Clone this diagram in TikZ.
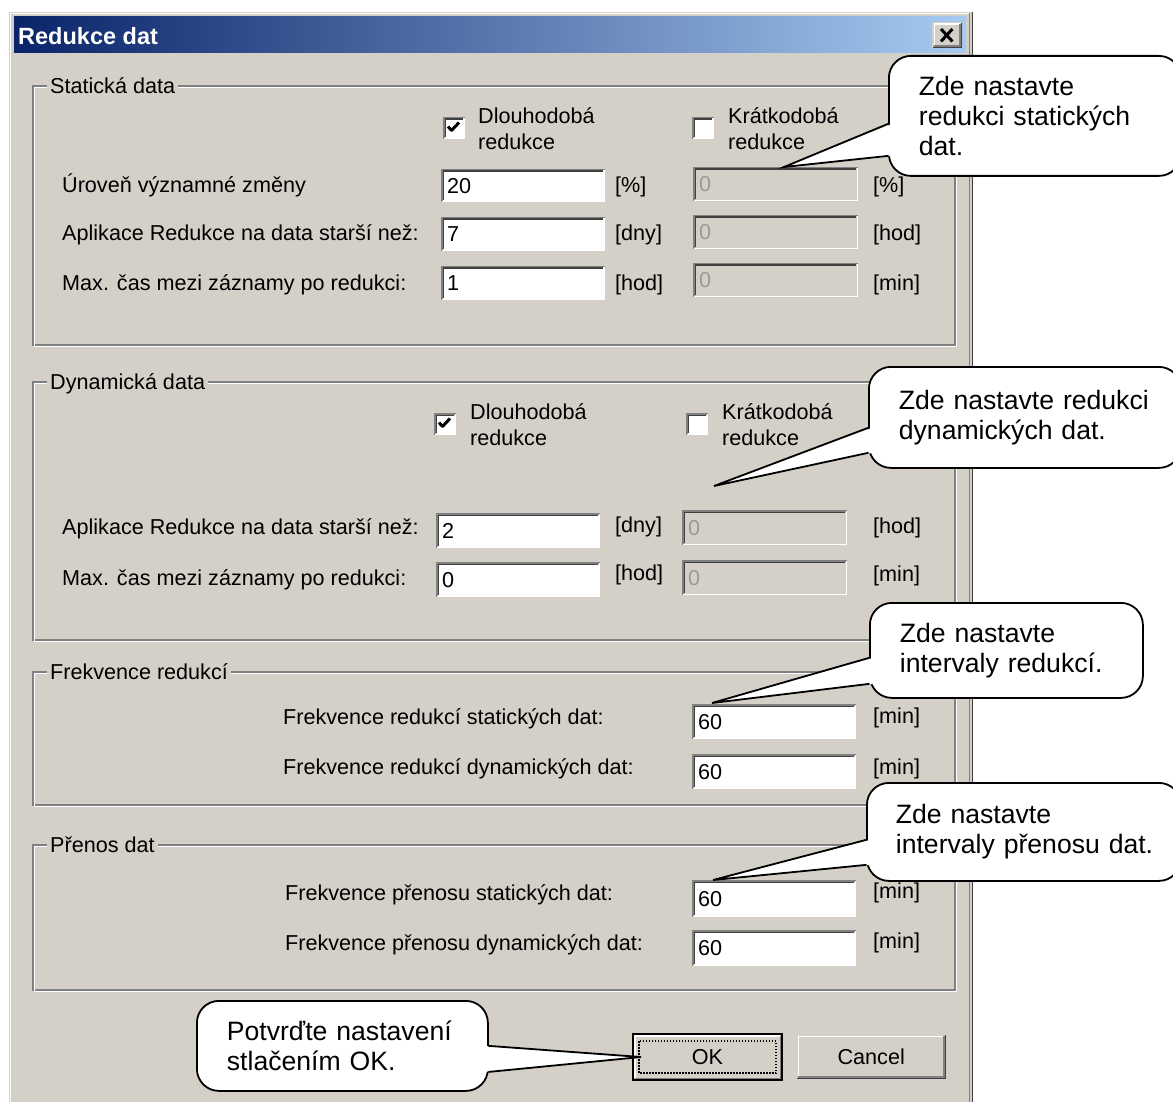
\documentclass[tikz,border=0pt]{standalone}
\usepackage{fontspec}
\setmainfont{Liberation Sans}
\usetikzlibrary{calc}
\definecolor{dlgbg}{HTML}{D4D0C8}
\definecolor{shadowc}{HTML}{808080}
\definecolor{darkc}{HTML}{404040}
\definecolor{titleL}{HTML}{0A246A}
\definecolor{titleR}{HTML}{A6CAF0}
\definecolor{distext}{HTML}{9A9A9A}
\newcommand\uifont{\fontsize{21.6}{26}\selectfont}
\newcommand\cofont{\fontsize{26.6}{30}\selectfont}
\newcommand\cln[1]{\mbox{#1}}
\newcommand\sunken[1]{%
  \draw[shadowc,line width=1.5pt] ([shift={(0.75pt,0.75pt)}]#1.south west) -- ([shift={(0.75pt,-0.75pt)}]#1.north west) -- ([shift={(-0.75pt,-0.75pt)}]#1.north east);
  \draw[darkc,line width=1.5pt] ([shift={(2.25pt,2.25pt)}]#1.south west) -- ([shift={(2.25pt,-2.25pt)}]#1.north west) -- ([shift={(-2.25pt,-2.25pt)}]#1.north east);
  \draw[white,line width=1.5pt] ([shift={(0.75pt,0.75pt)}]#1.south west) -- ([shift={(-0.75pt,0.75pt)}]#1.south east) -- ([shift={(-0.75pt,-0.75pt)}]#1.north east);
}
\newcommand\raisedbox[1]{%
  \draw[white,line width=1.5pt] ([shift={(2.25pt,2.25pt)}]#1.south west) -- ([shift={(2.25pt,-2.25pt)}]#1.north west) -- ([shift={(-2.25pt,-2.25pt)}]#1.north east);
  \draw[darkc,line width=1.5pt] ([shift={(0.75pt,0.75pt)}]#1.south west) -- ([shift={(-0.75pt,0.75pt)}]#1.south east) -- ([shift={(-0.75pt,-0.75pt)}]#1.north east);
  \draw[shadowc,line width=1.5pt] ([shift={(2.25pt,2.25pt)}]#1.south west) -- ([shift={(-2.25pt,2.25pt)}]#1.south east) -- ([shift={(-2.25pt,-2.25pt)}]#1.north east);
}
\newcommand\mkfield[8]{% name, x, y, w, h, fill, text colour, text
  \node[uibox, fill=#6, minimum width=#4pt, minimum height=#5pt] (#1) at (#2,#3) {};
  \sunken{#1}
  \node[uitext, text=#7] (#1t) at ([xshift=6pt]#1.west) {#8};
}
\newcommand\mkcheck[3]{% name, x, y
  \node[uibox, fill=white, minimum width=22pt, minimum height=22pt] (#1) at (#2,#3) {};
  \sunken{#1}
}
\newcommand\drawtick[1]{%
  \draw[line width=3pt, line join=bevel] ([shift={(5pt,-9.5pt)}]#1.north west) -- ([shift={(8.5pt,-13.5pt)}]#1.north west) -- ([shift={(16pt,-5.5pt)}]#1.north west);
}
\newcommand\groupbox[6]{% name, x1, y1, x2, y2, label
  \draw[shadowc, line width=1.5pt] (#2,#3) rectangle (#4,#5);
  \draw[white, line width=1.5pt] ({#2+1.5},{#3+1.5}) rectangle ({#4+1.5},{#5+1.5});
  \node[grouplabel] (#1) at ({#2+14},#3) {#6};
}
\begin{document}
\begin{tikzpicture}[x=1pt,y=-1pt,
  uibox/.style={rectangle, draw=none, inner sep=0pt, anchor=north west},
  uibase/.style={font=\uifont, inner sep=0pt, text=black},
  uitext/.style={uibase, anchor=mid west, yshift=-5pt},
  twoline/.style={uibase, anchor=west, align=left},
  grouplabel/.style={uitext, fill=dlgbg, inner xsep=3pt, inner ysep=2pt},
  callout/.style={draw=black, line width=1.8pt, fill=white, rounded corners=22pt, font=\cofont, align=left, inner xsep=30pt, inner ysep=0pt, anchor=north west},
  callline/.style={line width=1.8pt, line join=miter, line cap=round},
]
\useasboundingbox (0,0) rectangle (1173,1102);
\clip (0,0) rectangle (1173,1102);
\fill[white] (0,0) rectangle (1173,1102);

% dialog frame
\fill[dlgbg] (9,12) rectangle (973,1110);
\draw[white, line width=1.5pt] (10.5,1110) -- (10.5,13.5) -- (970,13.5);
\draw[shadowc, line width=1.5pt] (969.5,13.5) -- (969.5,1110);
\draw[darkc, line width=1.5pt] (972.25,12) -- (972.25,1110);
\shade[left color=titleL, right color=titleR] (14,17) rectangle (966,53);
\node[uitext, font=\bfseries\fontsize{23.5}{26}\selectfont, text=white] (title) at (18,37) {Redukce dat};
\node[uibox, fill=dlgbg, minimum width=30pt, minimum height=26pt] (close) at (932,22) {};
\raisedbox{close}
\draw[line width=3pt] ([shift={(9pt,-7pt)}]close.north west) -- ([shift={(-10pt,7pt)}]close.south east);
\draw[line width=3pt] ([shift={(-10pt,-7pt)}]close.north east) -- ([shift={(9pt,7pt)}]close.south west);

% Statická data
\groupbox{gstat}{33}{86}{955}{345}{Statická data}
\mkcheck{cb1}{443}{117}
\drawtick{cb1}
\node[twoline] (cb1t) at (478,129) {Dlouhodobá\\redukce};
\mkcheck{cb2}{692}{117}
\node[twoline] (cb2t) at (728,129) {Krátkodobá\\redukce};
\node[uitext] (sl1) at (62,185) {Úroveň významné změny};
\node[uitext] (sl2) at (62,233) {Aplikace Redukce na data starší než:};
\node[uitext] (sl3) at (62,283) {Max. čas mezi záznamy po redukci:};
\mkfield{s1a}{441}{169}{164}{33}{white}{black}{20}
\mkfield{s2a}{441}{217}{164}{34}{white}{black}{7}
\mkfield{s3a}{441}{266}{164}{34}{white}{black}{1}
\node[uitext] (su1) at (615,185) {[\%]};
\node[uitext] (su2) at (615,233) {[dny]};
\node[uitext] (su3) at (615,283) {[hod]};
\mkfield{s1b}{693}{167}{165}{34}{dlgbg}{distext}{0}
\mkfield{s2b}{693}{215}{165}{34}{dlgbg}{distext}{0}
\mkfield{s3b}{693}{263}{165}{34}{dlgbg}{distext}{0}
\node[uitext] (sv1) at (873,185) {[\%]};
\node[uitext] (sv2) at (873,233) {[hod]};
\node[uitext] (sv3) at (873,283) {[min]};

% Dynamická data
\groupbox{gdyn}{33}{382}{955}{640}{Dynamická data}
\mkcheck{cb3}{434}{413}
\drawtick{cb3}
\node[twoline] (cb3t) at (470,425) {Dlouhodobá\\redukce};
\mkcheck{cb4}{686}{413}
\node[twoline] (cb4t) at (722,425) {Krátkodobá\\redukce};
\node[uitext] (dl1) at (62,527) {Aplikace Redukce na data starší než:};
\node[uitext] (dl2) at (62,578) {Max. čas mezi záznamy po redukci:};
\mkfield{d1a}{436}{513}{164}{35}{white}{black}{2}
\mkfield{d2a}{436}{562}{164}{35}{white}{black}{0}
\node[uitext] (du1) at (615,525) {[dny]};
\node[uitext] (du2) at (615,573) {[hod]};
\mkfield{d1b}{682}{510}{165}{35}{dlgbg}{distext}{0}
\mkfield{d2b}{682}{560}{165}{35}{dlgbg}{distext}{0}
\node[uitext] (dv1) at (873,526) {[hod]};
\node[uitext] (dv2) at (873,574) {[min]};

% Frekvence redukcí
\groupbox{gfreq}{33}{672}{955}{805}{Frekvence redukcí}
\node[uitext] (fl1) at (283,717) {Frekvence redukcí statických dat:};
\node[uitext] (fl2) at (283,767) {Frekvence redukcí dynamických dat:};
\mkfield{f1}{692}{704}{164}{35}{white}{black}{60}
\mkfield{f2}{692}{754}{164}{35}{white}{black}{60}
\node[uitext] (fu1) at (873,716) {[min]};
\node[uitext] (fu2) at (873,767) {[min]};

% Přenos dat
\groupbox{gpren}{33}{845}{955}{990}{Přenos dat}
\node[uitext] (pl1) at (285,893) {Frekvence přenosu statických dat:};
\node[uitext] (pl2) at (285,943) {Frekvence přenosu dynamických dat:};
\mkfield{p1}{692}{880}{164}{37}{white}{black}{60}
\mkfield{p2}{692}{930}{164}{36}{white}{black}{60}
\node[uitext] (pu1) at (873,891) {[min]};
\node[uitext] (pu2) at (873,941) {[min]};

% Buttons
\node[uibox, fill=dlgbg, draw=black, line width=2pt, minimum width=149pt, minimum height=46pt] (ok) at (632,1033) {};
\draw[white, line width=1.5pt] ([shift={(2.75pt,2.75pt)}]ok.south west) -- ([shift={(2.75pt,-2.75pt)}]ok.north west) -- ([shift={(-2.75pt,-2.75pt)}]ok.north east);
\draw[shadowc, line width=1.5pt] ([shift={(2.75pt,2.75pt)}]ok.south west) -- ([shift={(-2.75pt,2.75pt)}]ok.south east) -- ([shift={(-2.75pt,-2.75pt)}]ok.north east);
\draw[line width=1.2pt, dash pattern=on 1.5pt off 1.5pt] ([shift={(7pt,-8pt)}]ok.north west) rectangle ([shift={(-7pt,8pt)}]ok.south east);
\node[font=\uifont, inner sep=0pt] (okt) at (ok.center) {OK};
\node[uibox, fill=dlgbg, minimum width=150pt, minimum height=45pt] (cancel) at (796,1034) {};
\raisedbox{cancel}
\node[font=\uifont, inner sep=0pt] (cancelt) at (cancel.center) {Cancel};

% Callouts
\node[callout, minimum width=292pt, minimum height=120pt, text width=232pt] (c1) at (888,55) {\cln{Zde nastavte}\\\cln{redukci statických}\\\cln{dat.}};
\coordinate (t1) at ($(s1b.north west)!0.55!(s1b.north east)$);
\fill[white] ([shift={(4pt,-8pt)}]c1.west) -- (t1) -- ([shift={(4pt,-40pt)}]c1.west) -- cycle;
\draw[callline] ([yshift=-8pt]c1.west) -- (t1) -- ([yshift=-40pt]c1.west);

\node[callout, minimum width=312pt, minimum height=101pt, text width=252pt] (c2) at (868,366) {\cln{Zde nastavte redukci}\\\cln{dynamických dat.}};
\coordinate (t2) at (714,486);
\fill[white] ([shift={(4pt,-10.5pt)}]c2.west) -- (t2) -- ([shift={(4pt,-35.5pt)}]c2.west) -- cycle;
\draw[callline] ([yshift=-10.5pt]c2.west) -- (t2) -- ([yshift=-35.5pt]c2.west);

\node[callout, minimum width=273pt, minimum height=95pt, text width=213pt] (c3) at (869,602) {\cln{Zde nastavte}\\\cln{intervaly redukcí.}};
\coordinate (t3) at (712,703);
\fill[white] ([shift={(4pt,-7.5pt)}]c3.west) -- (t3) -- ([shift={(4pt,-33.5pt)}]c3.west) -- cycle;
\draw[callline] ([yshift=-7.5pt]c3.west) -- (t3) -- ([yshift=-33.5pt]c3.west);

\node[callout, inner xsep=29pt, minimum width=314pt, minimum height=98pt, text width=256pt] (c4) at (866,782) {\cln{Zde nastavte}\\\cln{intervaly přenosu dat.}};
\coordinate (t4) at (713,880);
\fill[white] ([shift={(4pt,-8pt)}]c4.west) -- (t4) -- ([shift={(4pt,-33pt)}]c4.west) -- cycle;
\draw[callline] ([yshift=-8pt]c4.west) -- (t4) -- ([yshift=-33pt]c4.west);

\node[callout, minimum width=291pt, minimum height=90pt, text width=231pt] (c5) at (196,1000) {\cln{Potvrďte nastavení}\\\cln{stlačením OK.}};
\coordinate (t5) at (641,1057);
\fill[white] ([shift={(-4pt,0pt)}]c5.east) -- (t5) -- ([shift={(-4pt,-26pt)}]c5.east) -- cycle;
\draw[callline] (c5.east) -- (t5) -- ([yshift=-26pt]c5.east);
\end{tikzpicture}
\end{document}
